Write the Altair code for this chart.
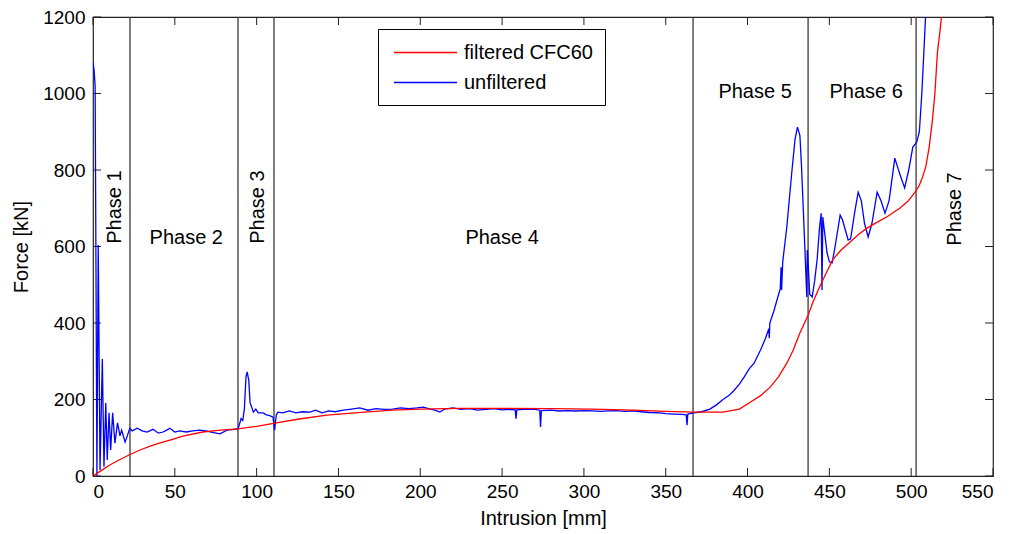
import altair as alt
import pandas as pd

# ---------------- data ----------------
blue_x = [0, 0.7, 1.3, 2.4, 3.2, 4.3, 5.7, 6.7, 7.8, 8.7, 9.8, 10.8, 12, 13.4, 15, 16.5, 17.5, 19.6,
          20.5, 22.5, 24, 27, 30, 33, 36.7, 40, 42.8, 45, 47, 50, 53, 57, 61, 65, 69, 73, 77.6, 81.9,
          85, 88.6, 89.5, 90.5, 91.5, 92.5, 93.5, 94.2, 95.2, 96, 97, 98, 99.5, 101, 104, 106, 108,
          110, 111, 112, 113, 116, 120, 124, 128, 132.6, 136, 140, 144, 148, 153, 158, 163, 168, 173,
          178, 183, 188, 193, 198, 202, 206, 209, 212, 215, 220, 225, 230, 235, 240, 245, 250, 255,
          258, 258.5, 259, 265, 270, 273, 273.5, 274, 280, 285, 290, 295, 300, 305.6, 310, 315, 320,
          325, 330, 335, 340, 346.6, 350, 355, 360, 362.5, 363, 363.5, 367, 372, 377, 381, 385, 389,
          392, 395, 398, 401, 404, 408, 411, 413, 413.3, 413.6, 416, 418, 420, 420.5, 420.8, 421.5,
          424, 427, 429, 430.5, 432, 433, 435, 436.2, 436.5, 437, 438, 439.5, 441, 442.5, 444, 445,
          445.5, 446, 447, 448.6, 450, 451.7, 453.5, 456.6, 458, 461.5, 463, 465.5, 467.6, 469.5,
          471.5, 473.7, 476, 479.2, 481.5, 484, 486.5, 490, 493, 496, 498.5, 501, 503.4, 505, 506.5,
          508, 509]
blue_y = [1082, 1060, 1020, 0, 604, 16, 306, 24, 191, 42, 165, 68, 165, 86, 139, 105, 120, 89,
          99, 125, 118, 125, 118, 115, 122, 112, 115, 120, 125, 115, 118, 115, 118, 120, 118, 114, 110, 120,
          121, 123, 135, 150, 145, 175, 260, 272, 250, 191, 180, 167, 175, 165, 165, 160, 158,
          154, 120, 160, 167, 165, 170, 165, 168, 167, 172, 165, 170, 168, 172, 175, 178, 172, 176,
          174, 175, 178, 176, 178, 180, 175, 172, 167, 175, 178, 174, 176, 172, 174, 176, 173, 174,
          173, 150, 173, 175, 174, 172, 128, 171, 172, 170, 171, 170, 171, 170, 169, 170, 171,
          169, 170, 168, 166, 165, 163, 162, 161, 160, 133, 162, 165, 168, 175, 186, 200, 212,
          225, 240, 259, 280, 295, 330, 360, 385, 360, 400, 430, 460, 490, 546, 486, 560,
          651, 792, 880, 912, 890, 808, 599, 468, 591, 560, 475, 468, 510, 565, 650, 687,
          486, 677, 640, 583, 560, 557, 600, 682, 670, 617, 620, 690, 742, 720,
          660, 625, 660, 742, 720, 687, 720, 831, 790, 753, 800, 860, 873, 900, 1000,
          1130, 1220]

red_x = [0, 5, 10, 15, 22, 28.7, 35, 40, 47, 55, 67, 78, 88.6, 100, 112, 126, 143, 160, 183, 200,
         224, 250, 280, 305, 330, 350, 367, 385, 395, 401.6, 408, 414, 419, 424, 428, 432, 437, 440,
         444, 448, 452, 457, 462.7, 468, 473, 479, 485, 493, 498, 502.4, 505, 507, 509, 511, 513,
         514.5, 516, 517.5, 518.5, 519.2]
red_y = [0, 14, 28, 40, 55, 68, 78, 85, 94, 104, 115, 120, 123, 130, 139, 149, 159, 165, 172, 175,
         177, 177, 176, 175, 172, 169, 167, 167, 175, 193, 210, 233, 260, 295, 330, 374, 420, 455,
         494, 530, 565, 590, 612, 632, 648, 663, 677, 700, 718, 742, 760, 782, 810, 860, 931,
         1000, 1106, 1160, 1200, 1240]

series_names = ["filtered CFC60", "unfiltered"]
series_colors = ["#ff0000", "#0000ff"]

phase_x = [22.6, 88.6, 110.6, 366.7, 437, 503]

phase_labels = ["Phase 1", "Phase 2", "Phase 3", "Phase 4", "Phase 5", "Phase 6", "Phase 7"]
phase_lx = [13.4, 57, 100.9, 250, 404.6, 472.5, 527]
phase_ly = [703, 622, 703, 622, 1004, 1004, 698]
phase_rot = [True, False, True, False, False, False, True]

x_ticks = list(range(0, 551, 50))
y_ticks = list(range(0, 1201, 200))

# ---------------- tables ----------------
df_blue = pd.DataFrame({"x": blue_x, "y": blue_y, "series": series_names[1]})
df_red = pd.DataFrame({"x": red_x, "y": red_y, "series": series_names[0]})
df_phase = pd.DataFrame({"x": phase_x})
df_lab = pd.DataFrame({"x": phase_lx, "y": phase_ly, "t": phase_labels, "rot": phase_rot})
df_xt = pd.DataFrame({"x": x_ticks})
df_yt = pd.DataFrame({"y": y_ticks})

FONT = "Liberation Sans"
W, H = 900, 459
TL = 8

xscale = alt.Scale(domain=[0, 550], nice=False, zero=False)
yscale = alt.Scale(domain=[0, 1200], nice=False, zero=False)
xaxis = alt.Axis(values=x_ticks, title="Intrusion [mm]", labelPadding=6, titlePadding=7, format="d")
yaxis = alt.Axis(values=y_ticks, title="Force [kN]", labelPadding=8, titlePadding=11, format="d")


def X():
    return alt.X("x:Q", scale=xscale, axis=xaxis)


def Y():
    return alt.Y("y:Q", scale=yscale, axis=yaxis)


color = alt.Color("series:N",
                  scale=alt.Scale(domain=series_names, range=series_colors),
                  legend=alt.Legend(orient="none", legendX=285, legendY=12, title=None,
                                    symbolType="M-3,0H3", symbolSize=441, symbolStrokeWidth=1.5,
                                    labelFont=FONT, labelFontSize=20, labelColor="black",
                                    strokeColor="black", fillColor="white", padding=12,
                                    rowPadding=8, labelOffset=27, symbolOffset=24))

blue = alt.Chart(df_blue).mark_line(clip=True, strokeWidth=1.3).encode(x=X(), y=Y(), color=color)
red = alt.Chart(df_red).mark_line(clip=True, strokeWidth=1.3).encode(x=X(), y=Y(), color=color)

phase = alt.Chart(df_phase).mark_rule(color="#3a3a3a", strokeWidth=1.3).encode(x=X())

lab_h = alt.Chart(df_lab).transform_filter("!datum.rot").mark_text(
    font=FONT, fontSize=20, color="black", align="center", baseline="middle").encode(
    x=X(), y=Y(), text="t:N")
lab_v = alt.Chart(df_lab).transform_filter("datum.rot").mark_text(
    font=FONT, fontSize=20, color="black", align="center", baseline="middle", angle=270).encode(
    x=X(), y=Y(), text="t:N")

tick_style = dict(color="#222222", strokeWidth=1)
tb = alt.Chart(df_xt).mark_rule(**tick_style).encode(x=X(), y=alt.value(H), y2=alt.value(H - TL))
tt = alt.Chart(df_xt).mark_rule(**tick_style).encode(x=X(), y=alt.value(0), y2=alt.value(TL))
tl = alt.Chart(df_yt).mark_rule(**tick_style).encode(y=Y(), x=alt.value(0), x2=alt.value(TL))
tr = alt.Chart(df_yt).mark_rule(**tick_style).encode(y=Y(), x=alt.value(W), x2=alt.value(W - TL))

chart = alt.layer(tb, tt, tl, tr, phase, blue, red, lab_h, lab_v).properties(
    width=W, height=H,
    autosize=alt.AutoSizeParams(type="none"),
    padding={"left": 93, "top": 17, "right": 23, "bottom": 58},
).configure_view(stroke="#222222", strokeWidth=1.2).configure_axis(
    domain=False, ticks=False, grid=False,
    labelFont=FONT, labelFontSize=19, labelColor="black",
    titleFont=FONT, titleFontSize=20, titleColor="black", titleFontWeight="normal",
)

chart.save("out.html", embed_options={"renderer": "svg", "actions": False})
